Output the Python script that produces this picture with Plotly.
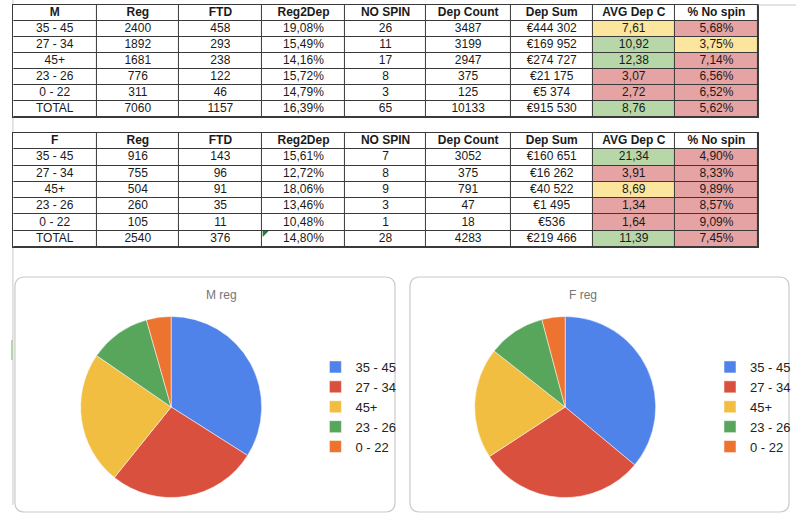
import plotly.graph_objects as go

# ---------------- data ----------------
age_groups = ["35 - 45", "27 - 34", "45+", "23 - 26", "0 - 22"]
row_labels = age_groups + ["TOTAL"]

m_reg = [2400, 1892, 1681, 776, 311, 7060]
m_ftd = [458, 293, 238, 122, 46, 1157]
m_reg2dep = [19.08, 15.49, 14.16, 15.72, 14.79, 16.39]
m_no_spin = [26, 11, 17, 8, 3, 65]
m_dep_count = [3487, 3199, 2947, 375, 125, 10133]
m_dep_sum = [444302, 169952, 274727, 21175, 5374, 915530]
m_avg_dep = [7.61, 10.92, 12.38, 3.07, 2.72, 8.76]
m_pct_no_spin = [5.68, 3.75, 7.14, 6.56, 6.52, 5.62]

f_reg = [916, 755, 504, 260, 105, 2540]
f_ftd = [143, 96, 91, 35, 11, 376]
f_reg2dep = [15.61, 12.72, 18.06, 13.46, 10.48, 14.80]
f_no_spin = [7, 8, 9, 3, 1, 28]
f_dep_count = [3052, 375, 791, 47, 18, 4283]
f_dep_sum = [160651, 16262, 40522, 1495, 536, 219466]
f_avg_dep = [21.34, 3.91, 8.69, 1.34, 1.64, 11.39]
f_pct_no_spin = [4.90, 8.33, 9.89, 8.57, 9.09, 7.45]

col_headers = ["Reg", "FTD", "Reg2Dep", "NO SPIN", "Dep Count", "Dep Sum", "AVG Dep C", "% No spin"]

# conditional-format classes (g = green, y = yellow, r = red)
m_avg_cls = ["y", "g", "g", "r", "r", "g"]
m_pct_cls = ["r", "y", "r", "r", "r", "r"]
f_avg_cls = ["g", "r", "y", "r", "r", "g"]
f_pct_cls = ["r", "r", "r", "r", "r", "r"]

# ---------------- styling ----------------
W, H = 800, 517
FONT = "Liberation Sans, Arial, sans-serif"
CLS_CODE = {"w": 0, "g": 1, "y": 2, "r": 3}
CELL_SCALE = [[0.0, "#ffffff"], [1 / 3, "#b7d7a8"], [2 / 3, "#fce69e"], [1.0, "#e6a3a3"]]
PIE_COLORS = ["#5083ea", "#d9503f", "#f1be42", "#58a55c", "#ed7330"]
LINE = "#3a3a3a"
COL_W = [84, 83, 83, 84, 81, 85, 83, 82, 84]


def px(x):
    return x / W


def py(y):
    return 1 - y / H


def dec(v):
    return f"{v:.2f}".replace(".", ",")


def pct(v):
    return dec(v) + "%"


def eur(v):
    return "€" + f"{v:,}".replace(",", " ")


x_edges = [0]
for w in COL_W:
    x_edges.append(x_edges[-1] + w)
x_centers = [(x_edges[i] + x_edges[i + 1]) / 2 for i in range(len(COL_W))]

fig = go.Figure()


def add_table(idx, gender, reg, ftd, r2d, nospin, dcount, dsum, avg, pctns, avg_cls, pct_cls, y0, y1):
    cols = [
        row_labels,
        [str(v) for v in reg],
        [str(v) for v in ftd],
        [pct(v) for v in r2d],
        [str(v) for v in nospin],
        [str(v) for v in dcount],
        [eur(v) for v in dsum],
        [dec(v) for v in avg],
        [pct(v) for v in pctns],
    ]
    headers = [gender] + col_headers
    n_rows = len(row_labels) + 1
    cls_cols = [["w"] * len(row_labels)] * 7 + [avg_cls, pct_cls]
    z = [[0] * len(headers)]
    for r in range(len(row_labels)):
        z.append([CLS_CODE[cls_cols[c][r]] for c in range(len(headers))])
    xa = "x" if idx == 1 else f"x{idx}"
    ya = "y" if idx == 1 else f"y{idx}"
    fig.add_trace(go.Heatmap(
        z=z, x=x_edges, y=list(range(n_rows + 1)),
        colorscale=CELL_SCALE, zmin=0, zmax=3, showscale=False,
        xgap=1, ygap=1, hoverinfo="skip", xaxis=xa, yaxis=ya,
    ))
    tx, ty, tt = [], [], []
    for c, h in enumerate(headers):
        tx.append(x_centers[c]); ty.append(0.5); tt.append(f"<b>{h}</b>")
        for r, v in enumerate(cols[c]):
            tx.append(x_centers[c]); ty.append(r + 1.5); tt.append(v)
    fig.add_trace(go.Scatter(
        x=tx, y=ty, text=tt, mode="text", textposition="middle center",
        textfont=dict(family=FONT, size=12, color="#1a1a1a"),
        hoverinfo="skip", showlegend=False, xaxis=xa, yaxis=ya,
    ))
    axis_common = dict(showgrid=False, zeroline=False, showticklabels=False, ticks="",
                       showline=True, mirror=True, linecolor=LINE, linewidth=1, fixedrange=True)
    fig.layout[f"xaxis{'' if idx == 1 else idx}"] = dict(
        domain=[px(13), px(762)], range=[0, x_edges[-1]], anchor=ya, **axis_common)
    fig.layout[f"yaxis{'' if idx == 1 else idx}"] = dict(
        domain=[py(y1), py(y0)], range=[n_rows, 0], anchor=xa, **axis_common)


add_table(1, "M", m_reg, m_ftd, m_reg2dep, m_no_spin, m_dep_count, m_dep_sum,
          m_avg_dep, m_pct_no_spin, m_avg_cls, m_pct_cls, 5, 117)
add_table(2, "F", f_reg, f_ftd, f_reg2dep, f_no_spin, f_dep_count, f_dep_sum,
          f_avg_dep, f_pct_no_spin, f_avg_cls, f_pct_cls, 133, 247)

R = 91
# the second pie's labels carry a trailing space so that its own legend lists them too
for name, labels, vals, cx, leg in [("M reg", age_groups, m_reg[:5], 172, "legend"),
                                    ("F reg", [a + " " for a in age_groups], f_reg[:5], 568, "legend2")]:
    fig.add_trace(go.Pie(
        labels=labels,
        values=vals,
        sort=False,
        direction="clockwise",
        rotation=0,
        textinfo="none",
        hoverinfo="label+value+percent",
        marker=dict(colors=PIE_COLORS, line=dict(color="white", width=0.5)),
        domain=dict(x=[px(cx - R), px(cx + R)], y=[py(407 + R), py(407 - R)]),
        legend=leg,
        name=name,
    ))

legend_style = dict(
    xanchor="left", yanchor="top",
    font=dict(family=FONT, size=13, color="#222"),
    bgcolor="rgba(0,0,0,0)",
    tracegroupgap=0,
    itemwidth=30,
)
fig.update_layout(
    legend=dict(x=px(317), y=py(352), **legend_style),
    legend2=dict(x=px(714), y=py(352), **legend_style),
)


def rounded_rect(x0, y0, x1, y1, r):
    pts = [
        f"M{px(x0 + r)},{py(y0)}",
        f"L{px(x1 - r)},{py(y0)}",
        f"Q{px(x1)},{py(y0)} {px(x1)},{py(y0 + r)}",
        f"L{px(x1)},{py(y1 - r)}",
        f"Q{px(x1)},{py(y1)} {px(x1 - r)},{py(y1)}",
        f"L{px(x0 + r)},{py(y1)}",
        f"Q{px(x0)},{py(y1)} {px(x0)},{py(y1 - r)}",
        f"L{px(x0)},{py(y0 + r)}",
        f"Q{px(x0)},{py(y0)} {px(x0 + r)},{py(y0)}",
        "Z",
    ]
    return " ".join(pts)


shapes = [
    # sheet gridlines
    dict(type="line", xref="paper", yref="paper", x0=px(13), x1=px(13), y0=py(0), y1=py(505),
         line=dict(color="#c8c8c8", width=1), layer="below"),
    dict(type="line", xref="paper", yref="paper", x0=px(762), x1=px(800), y0=py(5), y1=py(5),
         line=dict(color="#c8c8c8", width=1)),
    dict(type="line", xref="paper", yref="paper", x0=px(12), x1=px(12), y0=py(340), y1=py(360),
         line=dict(color="#b5d6a7", width=2)),
    # comment marker
    dict(type="path", xref="paper", yref="paper",
         path=f"M{px(264)},{py(231)} L{px(270)},{py(231)} L{px(264)},{py(237)} Z",
         fillcolor="#1e7e34", line=dict(width=0)),
    # chart boxes
    dict(type="path", xref="paper", yref="paper", path=rounded_rect(15, 277, 397, 512, 10),
         line=dict(color="#c9c9c9", width=1.2)),
    dict(type="path", xref="paper", yref="paper", path=rounded_rect(412, 277, 793, 512, 10),
         line=dict(color="#c9c9c9", width=1.2)),
]

annotations = [
    dict(text="M reg", x=px(205), y=py(295), xref="paper", yref="paper", showarrow=False,
         font=dict(family=FONT, size=12, color="#757575")),
    dict(text="F reg", x=px(602), y=py(295), xref="paper", yref="paper", showarrow=False,
         font=dict(family=FONT, size=12, color="#757575")),
]

fig.update_layout(
    width=W, height=H,
    margin=dict(l=0, r=0, t=0, b=0),
    paper_bgcolor="white",
    plot_bgcolor=LINE,
    showlegend=True,
    shapes=shapes,
    annotations=annotations,
    font=dict(family=FONT),
)

fig.write_html("out.html", config={"displayModeBar": False},
               post_script="document.body.style.margin='0';")
